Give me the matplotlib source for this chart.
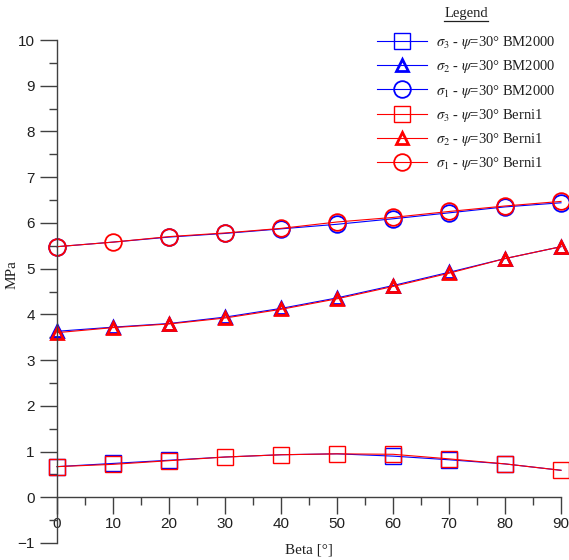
import matplotlib
matplotlib.use('Agg')
import matplotlib.pyplot as plt
from matplotlib.lines import Line2D
from matplotlib.ticker import MultipleLocator

# ── Data ─────────────────────────────────────────────────────────────────────
beta = [0, 10, 20, 30, 40, 50, 60, 70, 80, 90]

s3_bm = [0.67, 0.74, 0.81, 0.88, 0.93, 0.95, 0.90, 0.82, 0.73, 0.59]
s2_bm = [3.63, 3.72, 3.80, 3.94, 4.13, 4.36, 4.63, 4.92, 5.22, 5.48]
s1_bm = [5.48, 5.58, 5.69, 5.77, 5.87, 5.97, 6.09, 6.22, 6.35, 6.44]

s3_be = [0.67, 0.72, 0.80, 0.88, 0.93, 0.95, 0.94, 0.84, 0.73, 0.59]
s2_be = [3.60, 3.71, 3.79, 3.92, 4.11, 4.34, 4.61, 4.90, 5.22, 5.48]
s1_be = [5.48, 5.58, 5.70, 5.78, 5.88, 6.02, 6.12, 6.25, 6.37, 6.47]

labels = [r'$\sigma_3$ - $\psi$=30° BM2000',
          r'$\sigma_2$ - $\psi$=30° BM2000',
          r'$\sigma_1$ - $\psi$=30° BM2000',
          r'$\sigma_3$ - $\psi$=30° Berni1',
          r'$\sigma_2$ - $\psi$=30° Berni1',
          r'$\sigma_1$ - $\psi$=30° Berni1']

plt.rcParams['mathtext.fontset'] = 'stix'

BLUE = '#0000ff'
RED = '#ff0000'

fig = plt.figure(figsize=(5.69, 5.60), dpi=100)
ax = fig.add_axes([57 / 569, 17 / 560, (561 - 57) / 569, (543 - 40) / 560])

# blue markers that sit exactly under the red ones are hidden in the original
series = [(s3_bm, 's', BLUE, [0, 1, 2, 6, 7, 8]),
          (s2_bm, '^', BLUE, None),
          (s1_bm, 'o', BLUE, [0, 2, 3, 4, 5, 6, 7, 8, 9]),
          (s3_be, 's', RED, None),
          (s2_be, '^', RED, None),
          (s1_be, 'o', RED, None)]
for (vals, mk, col, every), lab in zip(series, labels):
    if mk == '^':
        ms, mew = 8.5, 2.0
    elif mk == 's':
        ms, mew = 12, 1.0
    else:
        ms, mew = 12, 1.3
    ax.plot(beta, vals, color=col, lw=0.8, marker=mk, ms=ms, mew=mew,
            mfc='none', mec=col, markevery=every, clip_on=False, label=lab)

ax.set_xlim(0, 90)
ax.set_ylim(-1, 10)
ax.spines['top'].set_visible(False)
ax.spines['right'].set_visible(False)
ax.spines['bottom'].set_position(('data', 0))
for sp in ('left', 'bottom'):
    ax.spines[sp].set_color('#404040')
    ax.spines[sp].set_linewidth(1.0)

ax.xaxis.set_major_locator(MultipleLocator(10))
ax.xaxis.set_minor_locator(MultipleLocator(5))
ax.yaxis.set_major_locator(MultipleLocator(1))
ax.yaxis.set_minor_locator(MultipleLocator(0.5))
ax.tick_params(which='major', direction='out', length=12, width=1.0, color='#404040')
ax.tick_params(which='minor', direction='out', length=6, width=1.0, color='#404040')
ax.tick_params(axis='x', which='major', pad=2)
ax.tick_params(axis='y', which='major', pad=4)
for t in ax.get_xticklabels() + ax.get_yticklabels():
    t.set_fontfamily('Liberation Sans')
    t.set_fontsize(11)
    t.set_color('#202020')

fig.text(309 / 569, 1 - 550 / 560, 'Beta [°]', family='Liberation Serif',
         fontsize=11, ha='center', va='center', color='#202020')
fig.text(12 / 569, 1 - 275 / 560, 'MPa', family='Liberation Serif',
         fontsize=11, ha='center', va='center', rotation=90, color='#202020')

leg = ax.legend(loc='upper left', bbox_to_anchor=(377 / 569, 1 - 34 / 560),
                bbox_transform=fig.transFigure, frameon=False,
                prop={'family': 'Liberation Serif', 'size': 10.5},
                handlelength=3.45, handletextpad=0.62, labelspacing=0.5,
                borderpad=0, borderaxespad=0)
for t in leg.get_texts():
    t.set_color('#202020')

# legend title, underlined
title = fig.text(466 / 569, 1 - 14 / 560, 'Legend', family='Liberation Serif',
                 fontsize=10.5, ha='center', va='center', color='#202020')
fig.canvas.draw()
bb = title.get_window_extent()
W, H = fig.bbox.width, fig.bbox.height
fig.add_artist(Line2D([bb.x0 / W, bb.x1 / W], [(bb.y0 - 0.5) / H] * 2,
                      transform=fig.transFigure, color='#202020', lw=0.9))

fig.savefig('out.png', dpi=100)
